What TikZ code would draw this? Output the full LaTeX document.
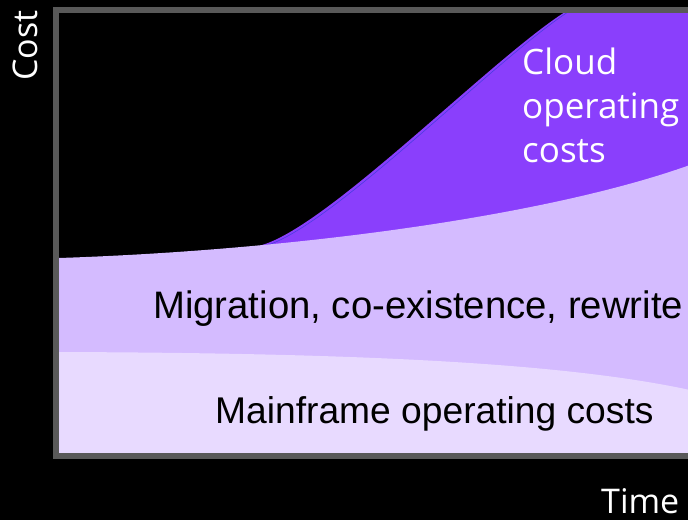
\documentclass[tikz,border=0pt]{standalone}
\usepackage{fontspec}
\setmainfont{Liberation Sans}
\newfontfamily\plexfont{Open Sans}
\usetikzlibrary{positioning}
\definecolor{framegray}{RGB}{89,89,89}
\definecolor{cloudpurple}{RGB}{138,63,252}
\definecolor{cloudedge}{RGB}{75,60,225}
\definecolor{migrationlilac}{RGB}{212,187,255}
\definecolor{mainframelilac}{RGB}{232,218,255}

\begin{document}
\begin{tikzpicture}[x=1pt,y=-1pt,
  darklabel/.style={inner sep=0pt,font=\fontsize{37}{44}\selectfont,text=black},
  lightlabel/.style={inner sep=0pt,font=\plexfont\fontsize{35}{44}\selectfont,text=white,align=left},
  axislabel/.style={inner sep=0pt,font=\plexfont\fontsize{34}{40}\selectfont,text=white}]
  \fill[black] (0,0) rectangle (688,520);
  \useasboundingbox (0,0) rectangle (688,520);
  \fill[cloudpurple] (262,245) .. controls (330,225) and (490,60) .. (565,12) -- (700,12) -- (700,456) -- (262,456) -- cycle;
  \draw[cloudedge,line width=0.6pt] (265,246) .. controls (333,226) and (493,61) .. (568,12);
  \fill[migrationlilac] (59,258) .. controls (300,250) and (550,215) .. (690,165) -- (700,165) -- (700,456) -- (59,456) -- cycle;
  \fill[mainframelilac] (59,352) .. controls (350,353) and (560,362) .. (690,390) -- (700,390) -- (700,456) -- (59,456) -- cycle;
  \draw[framegray,line width=6pt] (700,9.5) -- (56,9.5) -- (56,456) -- (700,456);
  \node[lightlabel,anchor=north west] (cloud) at (522,48) {Cloud\\operating\\costs};
  \node[darklabel,font=\fontsize{38.3}{44}\selectfont,anchor=base west] (migration) at (153,318) {Migration, co-existence, rewrite};
  \node[darklabel,font=\fontsize{37.2}{44}\selectfont,anchor=base west] (mainframe) at (215,423) {Mainframe operating costs};
  \node[axislabel,rotate=90,anchor=base west] (cost) at (37,81) {Cost};
  \node[axislabel,anchor=base west] (time) at (601,513) {Time};
\end{tikzpicture}
\end{document}
